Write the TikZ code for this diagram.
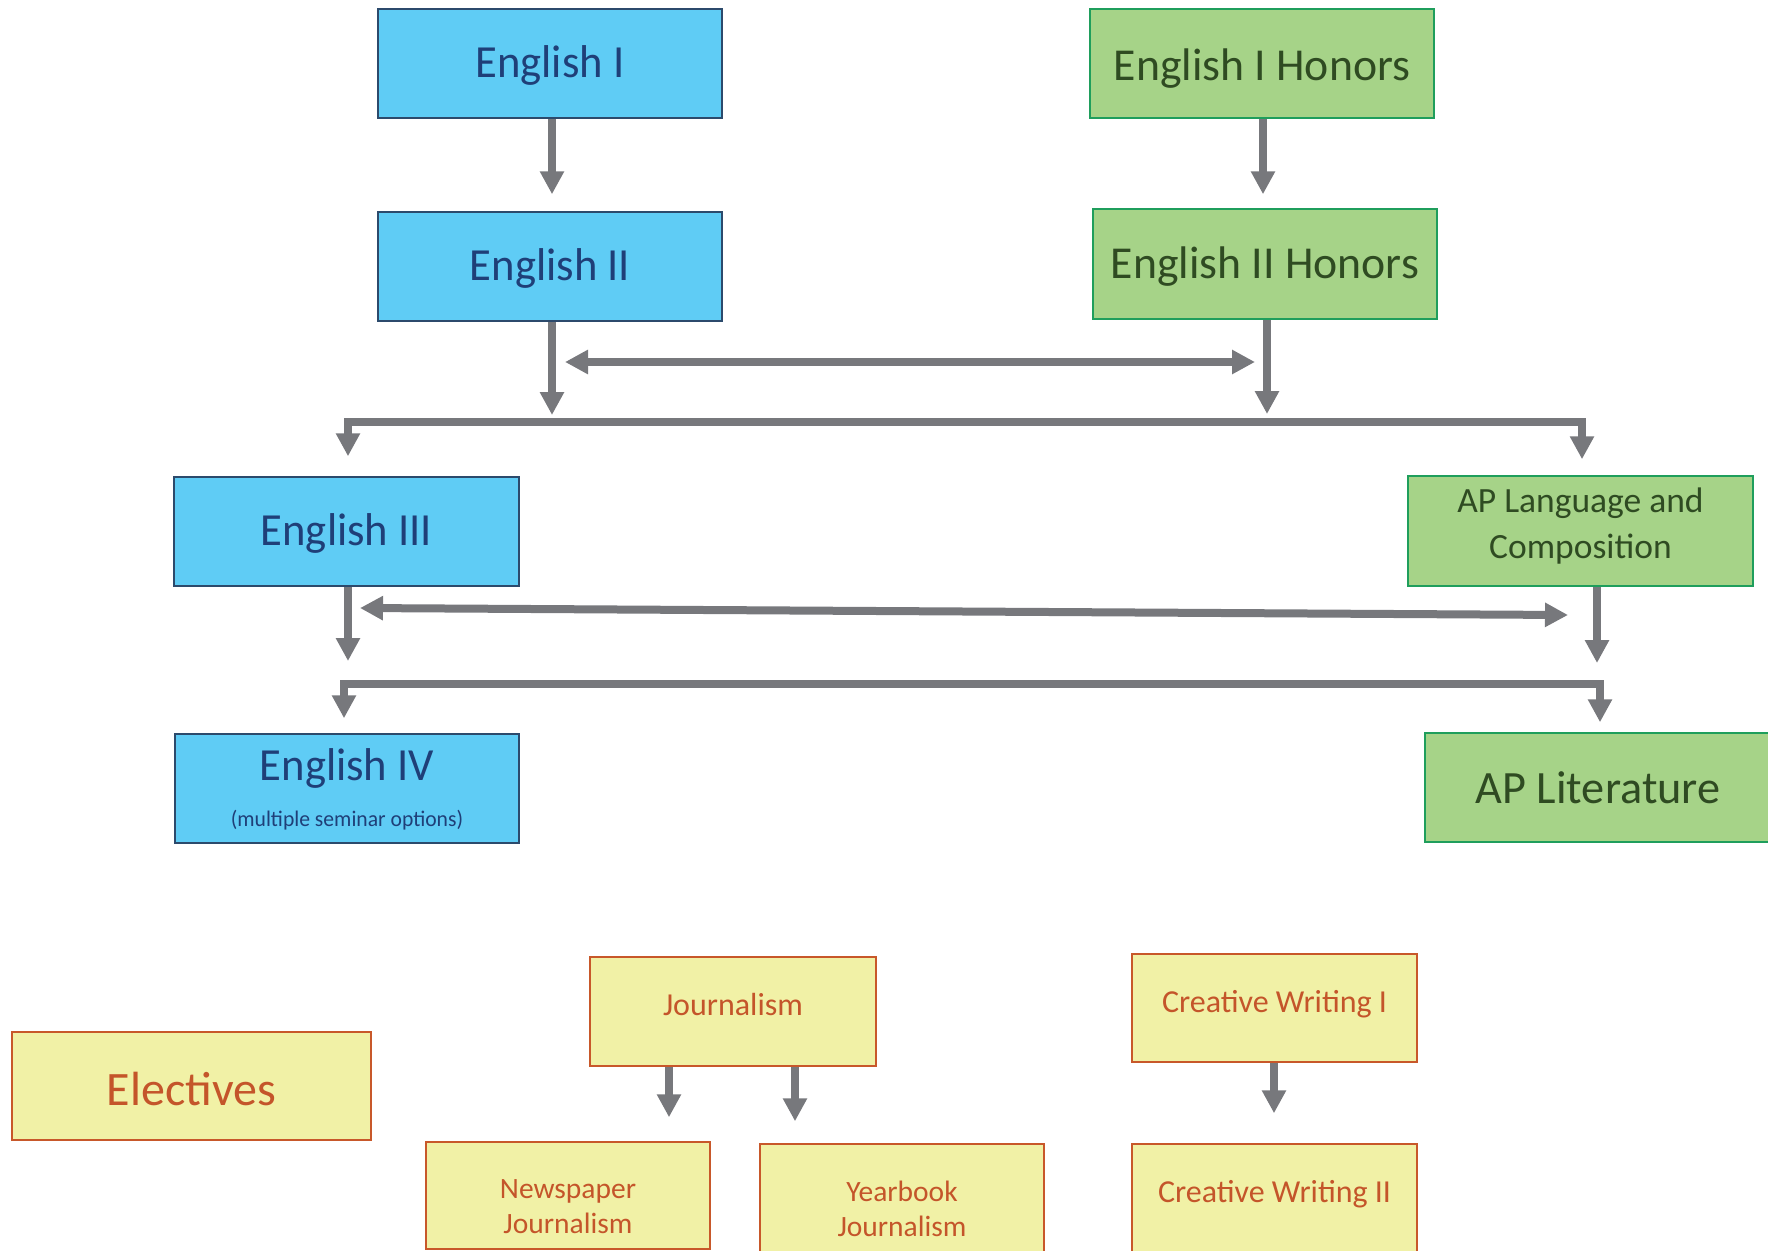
\documentclass[tikz,border=0pt]{standalone}
\usepackage{fontspec}
\setmainfont{Carlito}
\newfontfamily\condfont{Carlito}[FakeStretch=0.97]
\usetikzlibrary{arrows.meta}
\definecolor{bluefill}{HTML}{5FCCF5}
\definecolor{blueline}{HTML}{2C4A6C}
\definecolor{bluetext}{HTML}{1F3F78}
\definecolor{greenfill}{HTML}{A6D388}
\definecolor{greenline}{HTML}{1F9E5C}
\definecolor{greentext}{HTML}{2F4B22}
\definecolor{yellowfill}{HTML}{F1F1A6}
\definecolor{yellowline}{HTML}{C8582A}
\definecolor{yellowtext}{HTML}{C4552A}
\definecolor{arrowgray}{HTML}{77787C}
\tikzset{
  box/.style={rectangle, draw, line width=1.5pt, inner sep=0pt},
  bluebox/.style={box, draw=blueline, fill=bluefill, text=bluetext,
    minimum width=344pt, minimum height=109pt, font=\condfont\fontsize{46}{55}\selectfont},
  greenbox/.style={box, draw=greenline, fill=greenfill, text=greentext,
    minimum width=344pt, minimum height=109pt, font=\fontsize{45.7}{54}\selectfont},
  yellowbox/.style={box, draw=yellowline, fill=yellowfill, text=yellowtext,
    minimum width=284pt, minimum height=108pt, font=\fontsize{32}{38}\selectfont},
  tip/.tip={Triangle[width=23pt,length=23pt]},
  arr/.style={draw=arrowgray, line width=8pt, -tip},
  darr/.style={draw=arrowgray, line width=8pt, tip-tip},
}
\begin{document}
\begin{tikzpicture}[x=1pt,y=-1pt]
\useasboundingbox (0,0) rectangle (1768,1250);
\clip (0,0) rectangle (1768,1250);

% regular track
\node[bluebox, text height=27pt, text depth=0pt] (e1) at (550,63.5) {English I};
\node[bluebox, text height=27pt, text depth=0pt] (e2) at (550,266.5) {English II};
\node[bluebox, minimum width=345pt, text height=27pt, text depth=0pt] (e3) at (346.5,531.5) {English III};
\node[bluebox, font=\condfont\fontsize{46}{46}\selectfont, text height=20pt, text depth=37pt] (e4) at (347,788.5)
  {\begin{tabular}[t]{@{}c@{}}English IV\\{\fontsize{22.3}{46}\selectfont (multiple seminar options)}\end{tabular}};

% honors track
\node[greenbox, text height=33pt, text depth=0pt] (eh1) at (1262,63.5) {English I Honors};
\node[greenbox, minimum height=110pt, text height=28pt, text depth=0pt] (eh2) at (1265,264) {English II Honors};
\node[greenbox, minimum width=345pt, minimum height=110pt, text height=0pt, text depth=38pt,
  font=\fontsize{35.5}{46}\selectfont] (apl) at (1580.5,531)
  {\begin{tabular}[t]{@{}c@{}}AP Language and\\Composition\end{tabular}};
\node[greenbox, minimum width=346pt, font=\fontsize{46.3}{55}\selectfont, text height=31pt, text depth=0pt] (aplit) at (1598,787.5) {AP Literature};

% electives
\node[yellowbox, minimum width=359pt, font=\fontsize{48}{56}\selectfont, text height=38pt, text depth=0pt] (el) at (191.5,1086) {Electives};
\node[yellowbox, minimum width=286pt, minimum height=109pt, text height=27pt, text depth=20pt] (j) at (733,1011.5) {Journalism};
\node[yellowbox, minimum height=107pt, font=\fontsize{29.5}{35}\selectfont, text height=24pt, text depth=19pt] (np) at (568,1195.5)
  {\begin{tabular}[t]{@{}c@{}}Newspaper\\Journalism\end{tabular}};
\node[yellowbox, minimum height=109pt, font=\fontsize{29.5}{35}\selectfont, text height=24pt, text depth=19pt] (yb) at (902,1198.5)
  {\begin{tabular}[t]{@{}c@{}}Yearbook\\Journalism\end{tabular}};
\node[yellowbox, minimum width=285pt, text height=28pt, text depth=20pt] (cw1) at (1274.5,1008) {Creative Writing I};
\node[yellowbox, minimum width=285pt, minimum height=109pt, text height=27pt, text depth=20pt] (cw2) at (1274.5,1198.5) {Creative Writing II};

% connectors: first year to second year
\draw[arr, shorten >=17pt] ([xshift=2pt]e1.south) -- ([xshift=2pt]e2.north);
\draw[arr, shorten >=14pt] ([xshift=1pt]eh1.south) -- ([xshift=-2pt]eh2.north);

% second year to third year
\coordinate (e2end) at (552,415);
\coordinate (eh2end) at (1267,414);
\draw[arr] (e2.south -| e2end) -- (e2end);
\draw[arr] (eh2.south -| eh2end) -- (eh2end);
\coordinate (d1l) at (565,362);
\coordinate (d1r) at (1255,362);
\draw[darr] (d1l) -- (d1r);
\coordinate (bus1) at (965,422);
\draw[arr, shorten >=20pt] (bus1) -| ([xshift=1.5pt]e3.north);
\draw[arr, shorten >=16pt] (bus1) -| ([xshift=1.5pt]apl.north);

% third year to fourth year
\coordinate (e3end) at (348,661);
\coordinate (aplend) at (1597,663);
\draw[arr] (e3.south -| e3end) -- (e3end);
\draw[arr] (apl.south -| aplend) -- (aplend);
\coordinate (d2l) at (360,608);
\coordinate (d2r) at (1568,615);
\draw[darr] (d2l) -- (d2r);
\coordinate (bus2) at (970,684);
\draw[arr, shorten >=15pt] (bus2) -| ([xshift=-3pt]e4.north);
\draw[arr, shorten >=10pt] (bus2) -| ([xshift=2pt]aplit.north);

% electives connectors
\draw[arr, shorten >=24pt] ([xshift=-64pt]j.south) -- ([xshift=-64pt]j.south |- np.north);
\draw[arr, shorten >=22pt] ([xshift=62pt]j.south) -- ([xshift=62pt]j.south |- yb.north);
\draw[arr, shorten >=30pt] ([xshift=-0.5pt]cw1.south) -- ([xshift=-0.5pt]cw2.north);
\end{tikzpicture}
\end{document}
